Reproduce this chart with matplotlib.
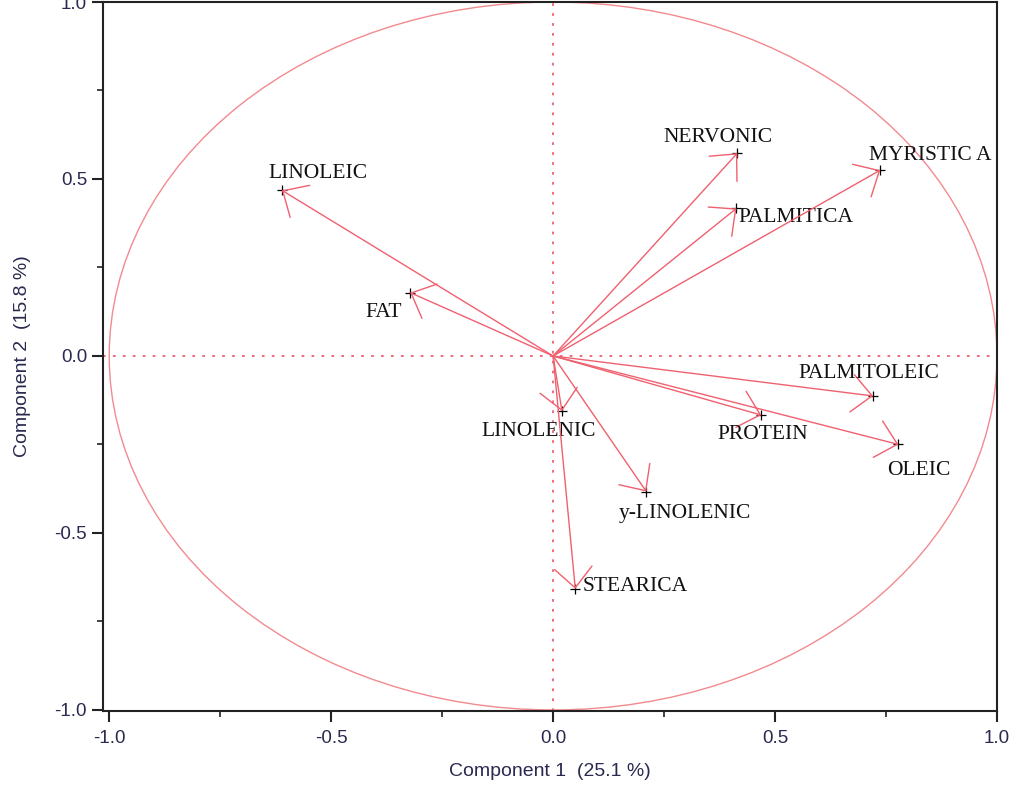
import numpy as np
import matplotlib.pyplot as plt
from matplotlib.patches import Ellipse
from matplotlib.ticker import MultipleLocator

# loadings on the first two components
names = ['LINOLEIC', 'FAT', 'NERVONIC', 'PALMITICA', 'MYRISTIC A', 'PALMITOLEIC',
         'PROTEIN', 'OLEIC', 'LINOLENIC', 'y-LINOLENIC', 'STEARICA']
comp1 = [-0.611, -0.322, 0.415, 0.413, 0.737, 0.721, 0.469, 0.778, 0.020, 0.210, 0.050]
comp2 = [0.468, 0.179, 0.573, 0.417, 0.525, -0.113, -0.167, -0.250, -0.156, -0.383, -0.658]

# label offsets from the arrow tip, in pixels
offsets = [(36, 17), (-26, -20), (-19, 16), (60, -9), (50, 15), (-4, 22),
           (1, -19), (20, -26), (-23, -20), (39, -22), (60, 2)]

red = '#f0606e'
txt = '#2a2a50'

fig = plt.figure(figsize=(10.14, 7.85), dpi=100)
ax = fig.add_axes([103 / 1014, 1 - 711 / 785, (997 - 103) / 1014, (711 - 2) / 785])

ax.set_xlim(-1.014, 1.0)
ax.set_ylim(-1.003, 1.0)

ax.add_patch(Ellipse((0, 0), 2, 2, fill=False, ec='#f28a8f', lw=1.0))
ax.axhline(0, color=red, ls=(0, (1.5, 4)), lw=1.3)
ax.axvline(0, color=red, ls=(0, (1.5, 4)), lw=1.3)

for i, nm in enumerate(names):
    ax.annotate('', xy=(comp1[i], comp2[i]), xytext=(0, 0),
                arrowprops=dict(arrowstyle='->,head_length=1.45,head_width=1.35',
                                mutation_scale=10, shrinkA=0, shrinkB=0,
                                color=red, lw=1.0))
    ax.plot(comp1[i], comp2[i], marker='+', color='black', ms=7, mew=0.9)
    ax.annotate(nm, xy=(comp1[i], comp2[i]), xytext=offsets[i],
                textcoords='offset pixels', ha='center', va='center',
                family='Liberation Serif', fontsize=15.5, color='#111111')

ax.xaxis.set_major_locator(MultipleLocator(0.5))
ax.xaxis.set_minor_locator(MultipleLocator(0.25))
ax.yaxis.set_major_locator(MultipleLocator(0.5))
ax.yaxis.set_minor_locator(MultipleLocator(0.25))
ax.xaxis.set_major_formatter(lambda v, p: f'{v:.1f}')
ax.yaxis.set_major_formatter(lambda v, p: f'{v:.1f}')

for s in ax.spines.values():
    s.set_linewidth(1.5)
    s.set_color('#222222')
ax.tick_params(which='major', length=8, width=1.5, color='#222222',
               labelsize=13.5, labelcolor=txt, labelfontfamily='Liberation Sans')
ax.tick_params(axis='x', which='major', pad=6)
ax.tick_params(which='minor', length=4, width=1.2, color='#222222')
ax.tick_params(top=False, right=False)

ax.set_xlabel('Component 1  (25.1 %)', family='Liberation Sans', fontsize=14,
              color=txt, labelpad=11)
ax.set_ylabel('Component 2  (15.8 %)', family='Liberation Sans', fontsize=14,
              color=txt, labelpad=17)

fig.savefig('out.png', dpi=100)
